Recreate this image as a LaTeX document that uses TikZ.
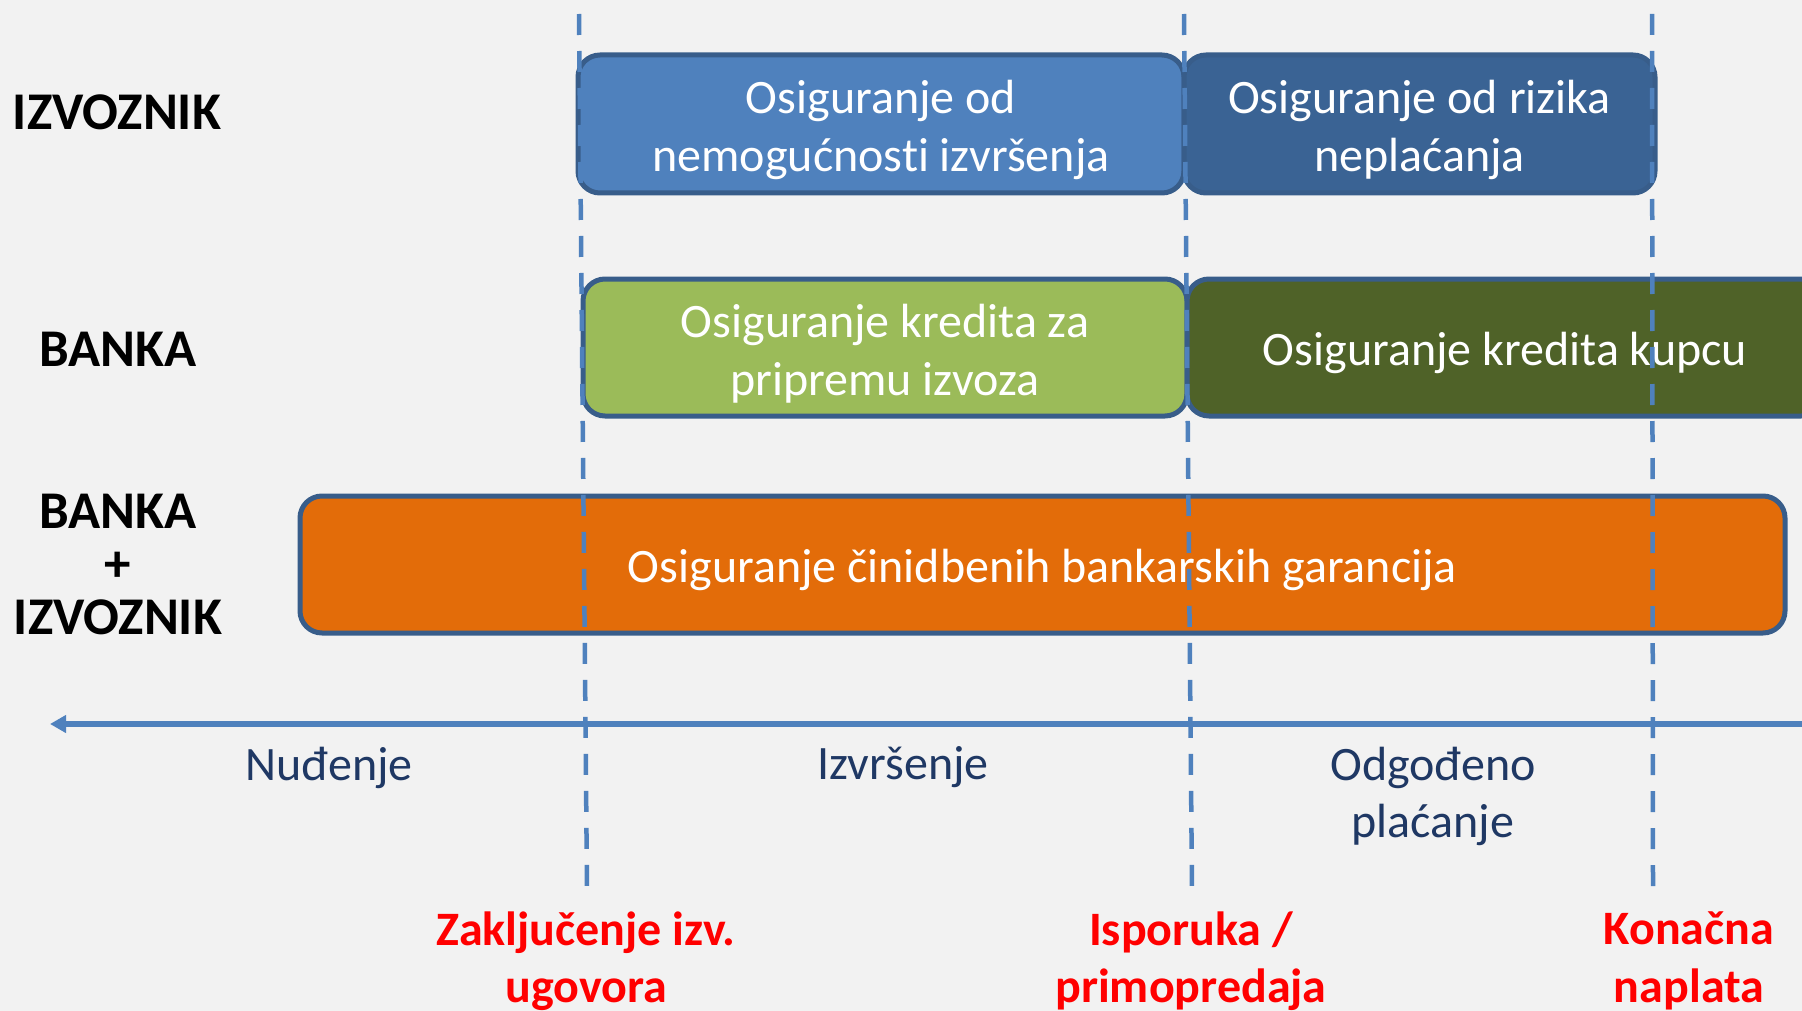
\documentclass[tikz,border=0pt]{standalone}
\usepackage{fontspec}
\setmainfont{Carlito}[Ligatures=NoCommon]
\usetikzlibrary{arrows.meta}
\definecolor{bg}{HTML}{F2F2F2}
\definecolor{bordc}{HTML}{385D8A}
\definecolor{lblue}{HTML}{4F81BD}
\definecolor{dblue}{HTML}{3A6394}
\definecolor{lgreen}{HTML}{9BBB59}
\definecolor{dgreen}{HTML}{4F6228}
\definecolor{orng}{HTML}{E36C09}
\definecolor{phasec}{HTML}{1F3864}
\definecolor{evred}{HTML}{FF0000}
\begin{document}
\begin{tikzpicture}[x=1pt,y=-1pt,
  box/.style={draw=bordc, line width=5pt, rounded corners=22pt, inner sep=0pt},
  boxtext/.style={text=white, align=center, inner sep=0pt, font=\fontsize{48}{57.5}\selectfont},
  sidelbl/.style={font=\bfseries\fontsize{53}{53}\selectfont, align=center, text=black},
  phase/.style={font=\fontsize{48}{57.5}\selectfont, align=center, text=phasec},
  event/.style={font=\bfseries\fontsize{48}{57.5}\selectfont, align=center, text=evred},
  dline/.style={draw=lblue, line width=4.5pt, dash pattern=on 21pt off 16pt}]
\fill[bg] (0,0) rectangle (1802,1011);
\useasboundingbox (0,0) rectangle (1802,1011);
% side labels
\node[sidelbl] (izv) at (117,112) {IZVOZNIK};
\node[sidelbl] (banka) at (118,349) {BANKA};
\node[sidelbl] (bi) at (118,564) {BANKA\\+\\IZVOZNIK};
% boxes
\node[box, fill=lblue, minimum width=606pt, minimum height=138pt] (b1) at (881,124) {};
\node[box, fill=dblue, minimum width=471pt, minimum height=138pt] (b2) at (1419.5,124) {};
\node[box, fill=lgreen, minimum width=604pt, minimum height=137pt] (b3) at (885,347.5) {};
\node[box, fill=dgreen, minimum width=636pt, minimum height=137pt] (b4) at (1505,347.5) {};
\node[box, fill=orng, minimum width=1485pt, minimum height=137pt] (b5) at (1042.5,564.5) {};
\node[boxtext] (t1) at ([yshift=-6pt]b1.center) {Osiguranje od\\nemogućnosti izvršenja};
\node[boxtext] (t2) at ([yshift=-6pt]b2.center) {Osiguranje od rizika\\neplaćanja};
\node[boxtext] (t3) at ([yshift=-6pt]b3.center) {Osiguranje kredita za\\pripremu izvoza};
\node[boxtext] (t4) at ([yshift=-5pt]b4.center) {Osiguranje kredita kupcu};
\node[boxtext] (t5) at ([yshift=-5pt]b5.center) {Osiguranje činidbenih bankarskih garancija};
% time axis
\coordinate (axr) at (1815,724);
\coordinate (axl) at (50,724);
\draw[draw=lblue, line width=6pt, -{Triangle[length=16pt,width=17pt]}] (axr) -- (axl);
% dashed milestones
\coordinate (d1t) at (579,14); \coordinate (d1b) at (587,889);
\coordinate (d2t) at (1184,14); \coordinate (d2b) at (1192,889);
\coordinate (d3t) at (1652,14); \coordinate (d3b) at (1653,889);
\draw[dline] (d1t) -- (d1b);
\draw[dline] (d2t) -- (d2b);
\draw[dline] (d3t) -- (d3b);
% phases
\node[phase] (p1) at (329,767.5) {Nuđenje};
\node[phase] (p2) at (903,767.5) {Izvršenje};
\node[phase] (p3) at (1433,796.5) {Odgođeno\\plaćanje};
% events
\node[event] (e1) at (586,961) {Zaključenje izv.\\ugovora};
\node[event] (e2) at (1191,961) {Isporuka /\\primopredaja};
\node[event] (e3) at (1689,961) {Konačna\\naplata};
\end{tikzpicture}
\end{document}
